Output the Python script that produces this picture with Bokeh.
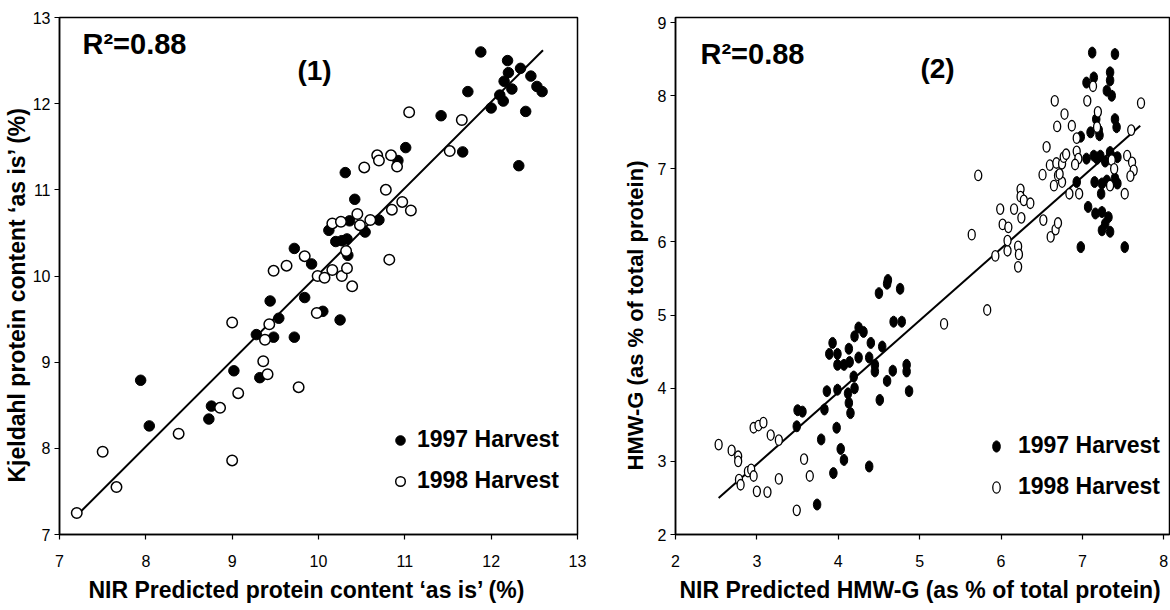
from bokeh.plotting import figure
from bokeh.layouts import row
from bokeh.models import Range1d, Label, Legend, LegendItem, FixedTicker, Title
from bokeh.embed import file_html
from bokeh.resources import INLINE

# ---------------- Panel (1): protein content ----------------
p1_x97 = [7.94, 8.04, 8.73, 8.76, 9.02, 9.32, 9.28, 9.48, 9.54, 9.44, 9.72, 9.84, 9.72, 9.92, 10.05,
          10.25, 10.12, 10.20, 10.27, 10.33, 10.34, 10.36, 10.31, 10.42, 10.54, 10.70, 10.92, 11.01,
          11.42, 11.67, 11.73, 11.88, 12.00, 12.10, 12.14, 12.15, 12.24, 12.19, 12.20, 12.34, 12.46,
          12.53, 12.59, 12.40, 12.32]
p1_y97 = [8.79, 8.26, 8.34, 8.49, 8.90, 8.82, 9.32, 9.29, 9.51, 9.71, 9.29, 9.75, 10.32, 10.14, 9.59,
          9.49, 10.53, 10.40, 10.41, 10.43, 10.24, 10.64, 11.20, 10.89, 10.51, 10.65, 11.34, 11.49,
          11.86, 11.44, 12.14, 12.60, 11.95, 12.10, 12.03, 12.26, 12.17, 12.50, 12.36, 12.41, 12.32,
          12.20, 12.14, 11.91, 11.28]
p1_x98 = [7.20, 7.50, 7.66, 8.38, 8.86, 9.00, 9.07, 9.00, 9.36, 9.41, 9.77, 9.38, 9.43, 9.48, 9.63,
          9.84, 9.98, 9.99, 10.07, 10.16, 10.27, 10.33, 10.39, 10.32, 10.16, 10.26, 10.45, 10.48,
          10.60, 10.53, 10.68, 10.70, 10.84, 10.91, 10.78, 10.82, 10.97, 11.07, 10.85, 11.05, 11.52,
          11.66]
p1_y98 = [7.25, 7.96, 7.55, 8.17, 8.47, 7.86, 8.64, 9.46, 9.01, 8.86, 8.71, 9.26, 9.44, 10.06, 10.12,
          10.23, 9.57, 10.00, 9.98, 10.07, 10.00, 10.09, 9.88, 10.29, 10.61, 10.63, 10.72, 10.59,
          10.65, 11.26, 11.40, 11.34, 11.40, 11.27, 11.00, 10.19, 10.86, 10.76, 10.77, 11.90, 11.45,
          11.81]
p1_fit_x = [7.20, 12.60]
p1_fit_y = [7.22, 12.62]
p1_ticks_x = [7, 8, 9, 10, 11, 12, 13]
p1_ticks_y = [7, 8, 9, 10, 11, 12, 13]
p1_xtitle = "NIR Predicted protein content \u2018as is\u2019 (%)"
p1_ytitle = "Kjeldahl protein content \u2018as is\u2019 (%)"

# ---------------- Panel (2): HMW-G ----------------
p2_x97 = [3.74, 3.50, 3.56, 3.49, 3.79, 3.94, 3.98, 4.03, 4.07, 4.38, 3.83, 3.86, 3.99, 3.89, 3.93,
          3.99, 3.99, 4.07, 4.13, 4.14, 4.19, 4.12, 4.13, 4.15, 4.20, 4.25, 4.20, 4.25, 4.31, 4.38,
          4.40, 4.45, 4.45, 4.54, 4.51, 4.60, 4.67, 4.68, 4.78, 4.84, 4.84, 4.87, 4.50, 4.60, 4.61,
          4.76,
          7.12, 7.40, 7.34, 7.34, 7.05, 7.14, 7.30, 7.36, 7.17, 7.40, 7.42, 7.10, 7.20, 7.21, 6.98,
          6.93, 7.05, 7.14, 7.18, 7.22, 7.28, 7.36, 7.43, 7.34, 7.15, 7.23, 7.24, 7.30, 7.40, 7.43,
          7.07, 7.16, 7.24, 7.32, 7.28, 7.24, 7.34, 6.98, 7.52]
p2_y97 = [2.41, 3.70, 3.68, 3.48, 3.30, 2.84, 3.46, 3.17, 3.02, 2.93, 3.71, 3.96, 3.98, 4.47, 4.62,
          4.32, 4.47, 4.32, 4.54, 4.36, 4.16, 3.93, 3.80, 3.66, 4.00, 4.42, 4.71, 4.83, 4.77, 4.42,
          4.62, 4.32, 4.23, 4.57, 3.84, 4.10, 4.24, 4.91, 4.91, 4.32, 4.23, 3.96, 5.30, 5.43, 5.48,
          5.36,
          8.59, 8.57, 8.32, 8.21, 8.18, 8.25, 8.07, 8.00, 7.68, 7.68, 7.57, 7.50, 7.53, 7.46, 7.44,
          6.82, 7.14, 7.18, 7.14, 7.18, 7.10, 7.17, 7.16, 7.23, 6.82, 6.66, 6.80, 6.84, 6.87, 6.80,
          6.48, 6.39, 6.41, 6.34, 6.25, 6.16, 6.14, 5.93, 5.93]
p2_x98 = [2.53, 2.69, 2.77, 2.77, 2.78, 2.80, 2.89, 2.93, 2.96, 3.00, 3.13, 2.96, 3.02, 3.08, 3.17,
          3.27, 3.27, 3.49, 3.58, 3.65, 5.30,
          5.83, 5.64, 5.72, 5.93, 6.08, 6.08, 6.02, 6.09, 5.99, 6.16, 6.24, 6.24, 6.28, 6.25, 6.21,
          6.22, 6.21, 6.36, 6.52, 6.61, 6.67, 6.70, 6.56, 6.51, 6.60, 6.68, 6.70, 6.75, 6.77, 6.80,
          6.65, 6.75, 6.72, 6.66, 6.78, 6.69, 6.87, 6.93, 6.93, 6.95, 6.91, 6.84, 6.96, 7.06, 7.13,
          7.19, 7.18, 7.36, 7.39, 7.34, 7.52, 7.60, 7.55, 7.61, 7.63, 7.59, 7.72]
p2_y98 = [3.23, 3.15, 3.07, 3.00, 2.75, 2.68, 2.86, 2.89, 2.80, 2.59, 2.58, 3.46, 3.49, 3.53, 3.36,
          3.29, 2.76, 2.33, 3.03, 2.80, 4.88,
          5.07, 6.10, 6.91, 5.81, 5.88, 6.02, 6.24, 6.20, 6.45, 6.45, 6.72, 6.62, 6.57, 6.33, 5.94,
          5.83, 5.66, 6.53, 6.30, 6.07, 6.17, 6.26, 7.30, 6.92, 7.05, 7.08, 6.91, 7.07, 7.16, 7.20,
          6.77, 6.82, 6.93, 7.93, 7.75, 7.58, 7.59, 7.42, 7.24, 7.14, 7.06, 6.66, 6.66, 7.93, 8.13,
          7.78, 7.57, 7.12, 7.00, 6.77, 6.66, 7.53, 7.18, 7.09, 6.98, 6.90, 7.90]
p2_fit_x = [2.53, 7.71]
p2_fit_y = [2.50, 7.59]
p2_ticks_x = [2, 3, 4, 5, 6, 7, 8]
p2_ticks_y = [2, 3, 4, 5, 6, 7, 8, 9]
p2_xtitle = "NIR Predicted HMW-G (as % of total protein)"
p2_ytitle = "HMW-G (as % of total protein)"

labels_series = ["1997 Harvest", "1998 Harvest"]
r2_text = "R\u00b2=0.88"

FONT = "Liberation Sans"


def make_fig(width, xr, yr, b_left, b_right, xticks, yticks):
    p = figure(width=width, height=610, x_range=Range1d(*xr), y_range=Range1d(*yr),
               output_backend="svg", toolbar_location=None,
               min_border_left=b_left, min_border_right=b_right,
               min_border_top=17, min_border_bottom=76)
    p.grid.visible = False
    p.outline_line_color = "black"
    p.outline_line_width = 1.5
    p.outline_line_alpha = 1.0
    p.xaxis.ticker = FixedTicker(ticks=xticks)
    p.yaxis.ticker = FixedTicker(ticks=yticks)
    for ax in (p.xaxis[0], p.yaxis[0]):
        ax.axis_line_color = "black"
        ax.axis_line_width = 1.5
        ax.major_tick_in = 0
        ax.major_tick_out = 5
        ax.major_tick_line_color = "black"
        ax.major_tick_line_width = 1.2
        ax.minor_tick_line_color = None
        ax.major_label_text_font = FONT
        ax.major_label_text_font_size = "16px"
        ax.major_label_text_color = "black"
    p.xaxis.major_label_standoff = 15
    p.yaxis.major_label_standoff = 4
    return p


def add_titles(p, xtitle, x_off, x_stand, ytitle, y_off, y_stand, y_size):
    p.add_layout(Title(text=xtitle, align="left", offset=x_off, standoff=x_stand,
                       text_font=FONT, text_font_size="23px", text_font_style="bold",
                       text_color="black", text_line_height=0.7), "below")
    p.add_layout(Title(text=ytitle, align="left", offset=y_off, standoff=y_stand,
                       text_font=FONT, text_font_size=y_size, text_font_style="bold",
                       text_color="black", text_line_height=0.7), "left")


# ---------- panel 1 ----------
p1 = make_fig(590, (7, 13), (7, 13), 59, 13, p1_ticks_x, p1_ticks_y)
p1.line(p1_fit_x, p1_fit_y, line_color="black", line_width=2)
r1a = p1.scatter(p1_x97, p1_y97, size=10.5, fill_color="black", line_color="black")
r1b = p1.scatter(p1_x98, p1_y98, size=10.5, fill_color="white", line_color="black", line_width=1.5)
leg1 = Legend(items=[LegendItem(label=labels_series[0], renderers=[r1a]),
                     LegendItem(label=labels_series[1], renderers=[r1b])],
              location=(329, 40), padding=0, margin=0, spacing=14,
              glyph_width=24, glyph_height=24, label_height=27, label_standoff=5,
              border_line_alpha=0, background_fill_alpha=0,
              label_text_font=FONT, label_text_font_size="23px", label_text_font_style="bold",
              label_text_color="black")
p1.add_layout(leg1)
p1.add_layout(Label(x=23, y=491, x_units="screen", y_units="screen", text=r2_text,
                    text_font=FONT, text_font_size="29px", text_font_style="bold",
                    text_color="black", text_baseline="alphabetic"))
p1.add_layout(Label(x=255, y=464, x_units="screen", y_units="screen", text="(1)",
                    text_font=FONT, text_font_size="28px", text_font_style="bold",
                    text_color="black", text_align="center", text_baseline="alphabetic"))
add_titles(p1, p1_xtitle, 29, 11, p1_ytitle, 52, 0, "23px")

# ---------- panel 2 ----------
p2 = make_fig(580, (2, 8.07), (2, 9.07), 85, 1, p2_ticks_x, p2_ticks_y)
p2.line(p2_fit_x, p2_fit_y, line_color="black", line_width=2)
r2a = p2.ellipse(p2_x97, p2_y97, width=7.5, height=11, width_units="screen", height_units="screen",
                 fill_color="black", line_color="black")
r2b = p2.ellipse(p2_x98, p2_y98, width=7, height=10.5, width_units="screen", height_units="screen",
                 fill_color="white", line_color="black", line_width=1.3)
leg2 = Legend(items=[LegendItem(label=labels_series[0], renderers=[r2a]),
                     LegendItem(label=labels_series[1], renderers=[r2b])],
              location=(314, 34), padding=0, margin=0, spacing=14,
              glyph_width=14, glyph_height=14, label_height=27, label_standoff=15,
              border_line_alpha=0, background_fill_alpha=0,
              label_text_font=FONT, label_text_font_size="23px", label_text_font_style="bold",
              label_text_color="black")
p2.add_layout(leg2)
p2.add_layout(Label(x=25, y=481, x_units="screen", y_units="screen", text=r2_text,
                    text_font=FONT, text_font_size="29px", text_font_style="bold",
                    text_color="black", text_baseline="alphabetic"))
p2.add_layout(Label(x=262, y=466, x_units="screen", y_units="screen", text="(2)",
                    text_font=FONT, text_font_size="28px", text_font_style="bold",
                    text_color="black", text_align="center", text_baseline="alphabetic"))
add_titles(p2, p2_xtitle, 4, 11, p2_ytitle, 64, 13, "22px")

layout = row(p1, p2)
open("out.html", "w").write(file_html(layout, INLINE))
